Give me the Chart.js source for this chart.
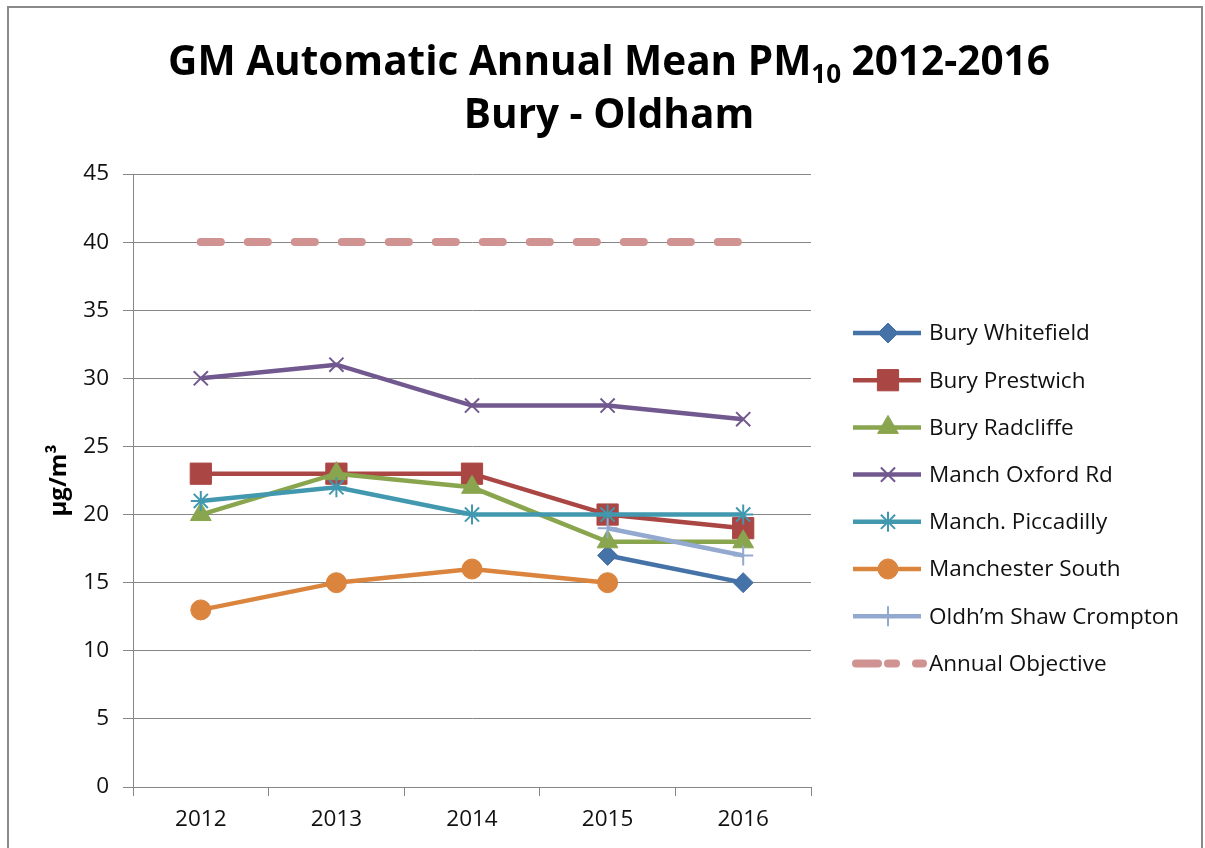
<!DOCTYPE html>
<html>
<head>
<meta charset="utf-8">
<script src="https://cdn.jsdelivr.net/npm/chart.js@4.4.1/dist/chart.umd.min.js"></script>
<style>
  body { margin: 0; background: #fff; }
  #wrap { width: 1205px; height: 848px; }
</style>
</head>
<body>
<div id="wrap"><canvas id="myChart" width="1205" height="848"></canvas></div>
<script>
const years = ["2012", "2013", "2014", "2015", "2016"];

const buryWhitefield = [null, null, null, 17, 15];
const buryPrestwich = [23, 23, 23, 20, 19];
const buryRadcliffe = [20, 23, 22, 18, 18];
const manchOxfordRd = [30, 31, 28, 28, 27];
const manchPiccadilly = [21, 22, 20, 20, 20];
const manchesterSouth = [13, 15, 16, 15, null];
const oldhamShawCrompton = [null, null, null, 19, 17];
const annualObjective = [40, 40, 40, 40, 40];

const yTicks = [0, 5, 10, 15, 20, 25, 30, 35, 40, 45];

const FONT = "'Open Sans', 'Noto Sans', sans-serif";

function series(label, data, color, style, radius, extra) {
  return Object.assign({
    label: label,
    data: data,
    borderColor: color,
    backgroundColor: color,
    pointBackgroundColor: color,
    pointBorderColor: color,
    borderWidth: 4.5,
    pointStyle: style,
    pointRadius: radius,
    pointHoverRadius: radius,
    pointBorderWidth: 1,
    tension: 0,
    spanGaps: false,
  }, extra || {});
}

const datasets = [
  series("Bury Whitefield", buryWhitefield, "#4572A7", "rectRot", 10),
  series("Bury Prestwich", buryPrestwich, "#AA4643", "rect", 15),
  series("Bury Radcliffe", buryRadcliffe, "#89A54E", "triangle", 12),
  series("Manch Oxford Rd", manchOxfordRd, "#71588F", "crossRot", 10, { pointBorderWidth: 2 }),
  series("Manch. Piccadilly", manchPiccadilly, "#4198AF", "star", 10, { pointBorderWidth: 2 }),
  series("Manchester South", manchesterSouth, "#DB843D", "circle", 10),
  series("Oldh\u2019m Shaw Crompton", oldhamShawCrompton, "#93A9CF", "cross", 10, { pointBorderWidth: 2 }),
  series("Annual Objective", annualObjective, "#D09392", false, 0, {
    borderWidth: 8,
    borderDash: [20, 27],
    borderCapStyle: "round",
  }),
];
// later series sit on top, as in the original
datasets.forEach((d, i) => { d.order = datasets.length - i; });

const frame = {
  id: "frame",
  beforeDraw(chart) {
    const c = chart.ctx;
    c.save();
    c.fillStyle = "#fff";
    c.fillRect(0, 0, chart.width, chart.height);
    c.strokeStyle = "#8a8a8a";
    c.lineWidth = 2;
    c.strokeRect(8, 7, 1194, 900);
    c.restore();
  },
  afterDraw(chart) {
    const c = chart.ctx;
    c.save();
    // title
    c.fillStyle = "#000";
    c.textBaseline = "alphabetic";
    const big = "bold 40.5px " + FONT;
    const small = "bold 26px " + FONT;
    const a = "GM Automatic Annual Mean PM";
    const sub = "10";
    const b = " 2012-2016";
    c.font = big;
    const wa = c.measureText(a).width;
    const wb = c.measureText(b).width;
    c.font = small;
    const ws = c.measureText(sub).width;
    let x = 609 - (wa + ws + wb) / 2;
    c.textAlign = "left";
    c.font = big;
    c.fillText(a, x, 75);
    x += wa;
    c.font = small;
    c.fillText(sub, x, 83);
    x += ws;
    c.font = big;
    c.fillText(b, x, 75);
    c.textAlign = "center";
    c.fillText("Bury - Oldham", 609, 128);

    // legend
    c.font = "22.5px " + FONT;
    c.textAlign = "left";
    c.textBaseline = "middle";
    chart.data.datasets.forEach((d, i) => {
      const y = 333 + i * 47.2;
      c.save();
      c.strokeStyle = d.borderColor;
      c.lineWidth = d.borderWidth;
      if (d.borderDash) {
        c.lineCap = "round";
        c.setLineDash([22, 10, 8, 20]);
        c.lineWidth = 8;
        c.beginPath();
        c.moveTo(856, y);
        c.lineTo(923, y);
        c.stroke();
      } else {
        c.beginPath();
        c.moveTo(853, y);
        c.lineTo(921, y);
        c.stroke();
        c.fillStyle = d.pointBackgroundColor;
        c.lineWidth = d.pointBorderWidth;
        Chart.helpers.drawPoint(c, { pointStyle: d.pointStyle, radius: d.pointRadius, borderWidth: d.pointBorderWidth, rotation: 0 }, 888, y);
      }
      c.restore();
      c.fillStyle = "#111";
      c.fillText(d.label, 929, y + 1);
    });
    c.restore();
  },
};

const ctx = document.getElementById("myChart").getContext("2d");

const myChart = new Chart(ctx, {
  type: "line",
  data: { labels: years, datasets: datasets },
  plugins: [frame],
  options: {
    responsive: false,
    animation: false,
    events: [],
    layout: { padding: { left: 0, top: 174, right: 394, bottom: 0 } },
    plugins: {
      legend: { display: false },
      title: { display: false },
      tooltip: { enabled: false },
    },
    scales: {
      x: {
        type: "category",
        offset: true,
        grid: {
          offset: true,
          drawOnChartArea: false,
          color: "#868686",
          tickLength: 9,
        },
        border: { color: "#868686", width: 1 },
        ticks: { color: "#111", font: { family: FONT, size: 22.5 }, padding: 10 },
        afterFit(scale) { scale.height = 61; },
      },
      y: {
        min: 0,
        max: 45,
        afterBuildTicks(scale) { scale.ticks = yTicks.map((v) => ({ value: v })); },
        grid: { color: "#868686", tickLength: 10 },
        border: { color: "#868686", width: 1 },
        ticks: { color: "#111", font: { family: FONT, size: 22.5 }, padding: 14 },
        title: {
          display: true,
          text: "\u00b5g/m\u00b3",
          color: "#000",
          font: { family: FONT, size: 24, weight: "bold" },
          padding: { top: 45, bottom: 0 },
        },
        afterFit(scale) { scale.width = 133; },
      },
    },
  },
});
</script>
</body>
</html>
